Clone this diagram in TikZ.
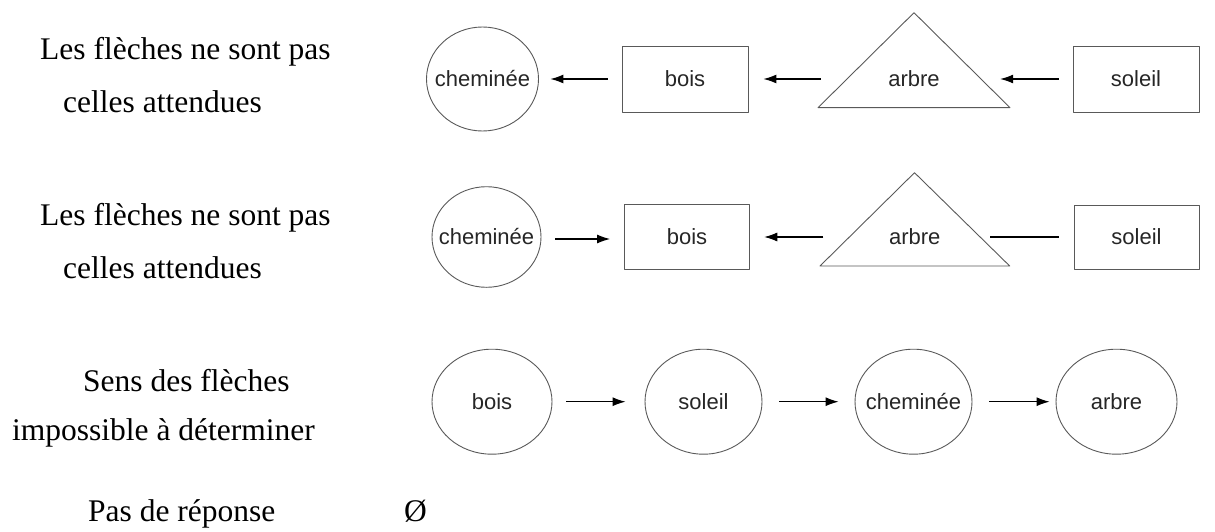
\documentclass[tikz,border=0pt]{standalone}
\usepackage{fontspec}
\setmainfont{Liberation Serif}
\newfontfamily\diafont{Liberation Sans}
\usetikzlibrary{shapes.geometric,arrows.meta}
\newcommand\zbox[1]{\makebox[0pt]{#1}}
\begin{document}
\begin{tikzpicture}[x=1pt,y=-1pt,
  shapeline/.style={draw=black!65, line width=0.9pt, line join=round},
  diatext/.style={font=\diafont\fontsize{22}{24}\selectfont, text=black!85},
  ell/.style={shapeline, diatext, ellipse, inner sep=0pt},
  box/.style={shapeline, diatext, rectangle, inner sep=0pt, minimum width=126pt, minimum height=66pt},
  tri/.style={diatext, inner sep=0pt, minimum height=0pt},
  lbl/.style={font=\fontsize{31.5}{36}\selectfont, inner sep=0pt, anchor=base west},
  arr/.style={-{Latex[length=13pt,width=9pt]}, line width=1.1pt},
  plainline/.style={line width=1.1pt}]
\useasboundingbox (0,0) rectangle (1215,532);

% left labels
\node[lbl] (l1a) at (40,60) {Les flèches ne sont pas};
\node[lbl] (l1b) at (63,112.5) {celles attendues};
\node[lbl] (l2a) at (40,225.7) {Les flèches ne sont pas};
\node[lbl] (l2b) at (63,278.5) {celles attendues};
\node[lbl] (l3a) at (83,391.7) {Sens des flèches};
\node[lbl] (l3b) at (12,440) {impossible à déterminer};
\node[lbl] (l4a) at (88,521.7) {Pas de réponse};
\node[lbl] (l4b) at (404,521.7) {Ø};

% row 1
\node[ell, minimum width=112pt, minimum height=104pt] (c1) at (482.5,79) {\zbox{cheminée}};
\node[box] (b1) at (685,79) {bois};
\draw[shapeline] (914,12.7) -- (1010,107.7) -- (818,107.7) -- cycle;
\node[tri, minimum width=192pt] (t1) at (914,79) {arbre};
\node[box] (s1) at (1136,79) {soleil};
\draw[arr, shorten <=14pt, shorten >=11.5pt] (b1.west) -- (c1.east);
\draw[arr, shorten <=-3pt, shorten >=15pt] (t1.west) -- (b1.east);
\draw[arr, shorten <=14pt, shorten >=-10pt] (s1.west) -- (t1.east);

% row 2
\node[ell, minimum width=109pt, minimum height=100.6pt] (c2) at (486.5,237) {\zbox{cheminée}};
\node[box, minimum width=125pt, minimum height=65pt] (b2) at (687,237) {bois};
\draw[shapeline] (914.5,172.7) -- (1009.7,266) -- (820,266) -- cycle;
\node[tri, minimum width=189.7pt] (t2) at (914.8,237) {arbre};
\node[box, minimum width=125pt, minimum height=64pt] (s2) at (1136.5,237) {soleil};
\draw[arr, shorten <=14pt, shorten >=14pt] ([yshift=-2pt]c2.east) -- ([yshift=-2pt]b2.west);
\draw[arr, shorten <=-3.6pt, shorten >=14.3pt] (t2.west) -- (b2.east);
\draw[plainline, shorten <=-19.7pt, shorten >=15pt] (t2.east) -- (s2.west);

% row 3
\node[ell, minimum width=120pt, minimum height=105pt] (e1) at (492,401.7) {\zbox{bois}};
\node[ell, minimum width=117pt, minimum height=105pt] (e2) at (703.5,401.7) {\zbox{soleil}};
\node[ell, minimum width=117pt, minimum height=105pt] (e3) at (913.5,401.7) {\zbox{cheminée}};
\node[ell, minimum width=121pt, minimum height=105pt] (e4) at (1116.5,401.7) {\zbox{arbre}};
\draw[arr, shorten <=14pt, shorten >=19pt] (e1.east) -- (e2.west);
\draw[arr, shorten <=17pt, shorten >=16pt] (e2.east) -- (e3.west);
\draw[arr, shorten <=17pt, shorten >=6pt] (e3.east) -- (e4.west);
\end{tikzpicture}
\end{document}
